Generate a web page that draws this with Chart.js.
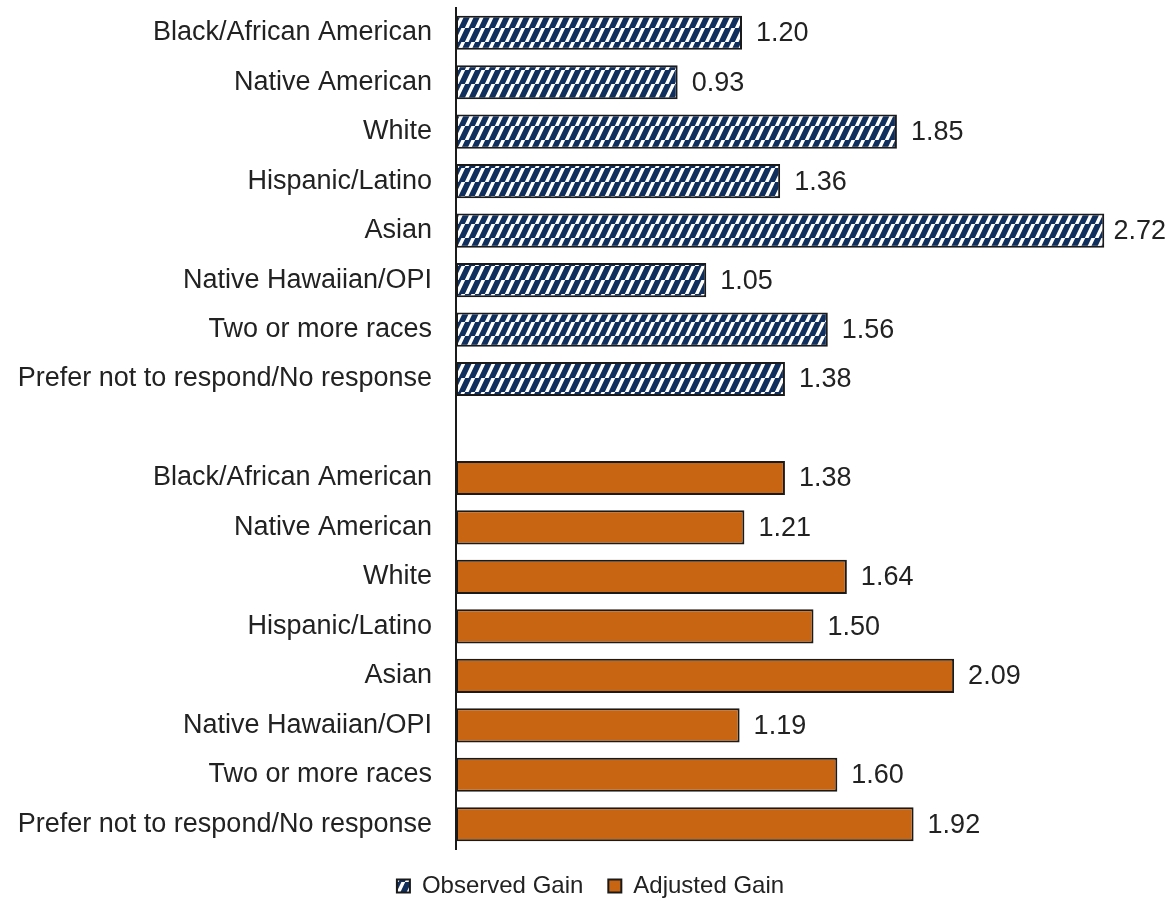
<!DOCTYPE html>
<html>
<head>
<meta charset="utf-8">
<script src="https://cdn.jsdelivr.net/npm/chart.js@4.4.1/dist/chart.umd.min.js"></script>
<style>
  body { margin: 0; background: #fff; }
  #wrap { width: 1172px; height: 902px; }
</style>
</head>
<body>
<div id="wrap"><canvas id="gainChart"></canvas></div>
<script>
const groups = [
  'Black/African American',
  'Native American',
  'White',
  'Hispanic/Latino',
  'Asian',
  'Native Hawaiian/OPI',
  'Two or more races',
  'Prefer not to respond/No response'
];
const observedGain = [1.20, 0.93, 1.85, 1.36, 2.72, 1.05, 1.56, 1.38];
const adjustedGain = [1.38, 1.21, 1.64, 1.50, 2.09, 1.19, 1.60, 1.92];

// two blocks of bars with one empty row between them
const blank = groups.map(() => null);
const labels = [...groups, '', ...groups];
const observedData = [...observedGain, null, ...blank];
const adjustedData = [...blank, null, ...adjustedGain];

const FONT = "'Liberation Sans', Arial, sans-serif";
const NAVY = '#112f5c';
const ORANGE = 'rgb(200, 101, 18)';

// navy fill with white diagonal stripes
function makeHatch() {
  const w = 10, h = 14;
  const c = document.createElement('canvas');
  c.width = w; c.height = h;
  const g = c.getContext('2d');
  g.fillStyle = NAVY;
  g.fillRect(0, 0, w, h);
  g.strokeStyle = '#ffffff';
  g.lineWidth = 3.4;
  g.beginPath();
  for (let k = -1; k <= 1; k++) {
    g.moveTo(k * w - w, 2 * h);
    g.lineTo(k * w + w, -h);
  }
  g.stroke();
  return g.createPattern(c, 'repeat');
}

const ctx = document.getElementById('gainChart').getContext('2d');
const hatch = makeHatch();

const valueLabels = {
  id: 'valueLabels',
  afterDatasetsDraw(chart) {
    const c = chart.ctx;
    c.save();
    c.font = '27px ' + FONT;
    c.fillStyle = '#222';
    c.textBaseline = 'middle';
    c.textAlign = 'left';
    chart.data.datasets.forEach((ds, i) => {
      chart.getDatasetMeta(i).data.forEach((bar, j) => {
        const v = ds.data[j];
        if (v === null || v === undefined) return;
        const txt = v.toFixed(2);
        const w = c.measureText(txt).width;
        let x = bar.x + 14;
        if (x + w > chart.width - 6) x = chart.width - 6 - w;
        c.fillText(txt, x, bar.y + 1);
      });
    });
    c.restore();
  }
};

const config = {
  type: 'bar',
  data: {
    labels: labels,
    datasets: [
      {
        label: 'Observed Gain',
        data: observedData,
        backgroundColor: hatch,
        borderColor: '#1a1a1a',
        borderWidth: 2,
        borderSkipped: false
      },
      {
        label: 'Adjusted Gain',
        data: adjustedData,
        backgroundColor: ORANGE,
        borderColor: '#1a1a1a',
        borderWidth: 2,
        borderSkipped: false
      }
    ]
  },
  options: {
    indexAxis: 'y',
    responsive: true,
    maintainAspectRatio: false,
    animation: false,
    grouped: false,
    barPercentage: 0.69,
    categoryPercentage: 1,
    layout: { padding: { top: 8, left: 10, right: 1, bottom: 0 } },
    scales: {
      x: { min: 0, max: 3, display: false },
      y: {
        grid: { display: false, drawTicks: false },
        border: { display: true, color: '#1a1a1a', width: 2 },
        ticks: { autoSkip: false, padding: 24, color: '#222', font: { family: FONT, size: 27 } },
        afterFit(scale) {
          scale.width = 446;
          scale.paddingTop = 0;
          scale.paddingBottom = 0;
        }
      }
    },
    plugins: {
      legend: {
        position: 'bottom',
        maxHeight: 53,
        labels: {
          boxWidth: 13,
          boxHeight: 13,
          padding: 25,
          color: '#222',
          font: { family: FONT, size: 24 }
        }
      },
      tooltip: { enabled: false }
    }
  },
  plugins: [valueLabels]
};

const gainChart = new Chart(ctx, config);
</script>
</body>
</html>
